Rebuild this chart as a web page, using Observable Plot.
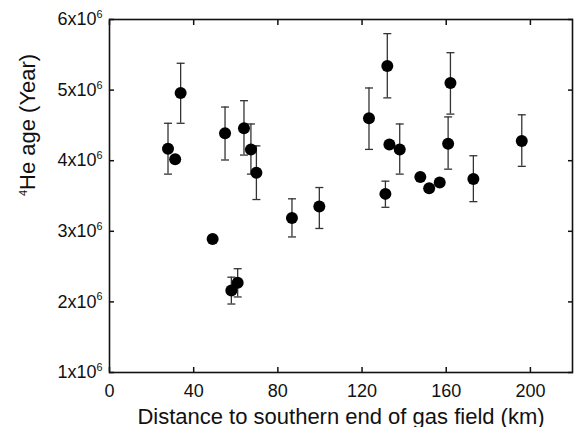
<!DOCTYPE html>
<html><head><meta charset="utf-8">
<script src="https://cdn.jsdelivr.net/npm/d3@7"></script>
<script src="https://cdn.jsdelivr.net/npm/@observablehq/plot@0.6"></script>
<style>body{margin:0;background:#fff} svg{display:block}</style>
</head><body><div id="chart"></div>
<script>
// Distance to southern end of gas field (km)
const distance = [27.8, 31.2, 33.8, 49.0, 54.9, 57.9, 60.9, 63.9, 67.2, 69.8, 86.7, 99.7,
                  123.3, 131.1, 132.0, 133.0, 137.9, 147.7, 151.9, 156.9, 160.9, 162.0, 172.9, 195.9];
// 4He age in millions of years
const ageM   = [4.17, 4.02, 4.96, 2.89, 4.39, 2.16, 2.27, 4.46, 4.16, 3.83, 3.19, 3.35,
                4.60, 3.53, 5.34, 4.23, 4.16, 3.77, 3.61, 3.69, 4.24, 5.10, 3.74, 4.28];
const ageHiM = [4.53, null, 5.38, null, 4.76, 2.35, 2.47, 4.85, 4.52, 4.21, 3.46, 3.62,
                5.03, 3.71, 5.80, null, 4.52, null, null, null, 4.62, 5.53, 4.07, 4.65];
const ageLoM = [3.81, null, 4.53, null, 4.01, 1.97, 2.07, 4.08, 3.81, 3.45, 2.92, 3.04,
                4.16, 3.34, 4.89, null, 3.81, null, null, null, 3.88, 4.66, 3.42, 3.92];

const xTicks = [0, 40, 80, 120, 160, 200];
const yTicks = [1e6, 2e6, 3e6, 4e6, 5e6, 6e6];
const xLabel = "Distance to southern end of gas field (km)";
const yLabel = "^4He age (Year)";

const rows = distance.map((d, i) => ({
  distance: d, age: ageM[i] * 1e6,
  hi: ageHiM[i] == null ? null : ageHiM[i] * 1e6,
  lo: ageLoM[i] == null ? null : ageLoM[i] * 1e6
}));
const bars = rows.filter(r => r.hi != null);

const capSymbol = {draw(ctx, size) { const w = Math.sqrt(size / Math.PI); ctx.moveTo(-w, 0); ctx.lineTo(w, 0); }};

const chart = Plot.plot({
  width: 574, height: 427,
  marginLeft: 109, marginRight: 2, marginTop: 19, marginBottom: 55,
  style: {fontFamily: "'Liberation Sans', Arial, Helvetica, sans-serif", fontSize: "18px", color: "#111", background: "#fff", overflow: "visible"},
  x: {domain: [0, 220]},
  y: {domain: [1e6, 6e6]},
  marks: [
    Plot.axisX({ticks: xTicks, tickSize: 0, tickPadding: 12, label: null, fontSize: 18}),
    Plot.axisX({ticks: xTicks, tickSize: -5, tickFormat: () => "", label: null, strokeWidth: 1.5}),
    Plot.axisX({anchor: "top", ticks: xTicks, tickSize: -5, tickFormat: () => "", label: null, strokeWidth: 1.5}),
    Plot.axisY({ticks: yTicks, tickSize: 0, tickPadding: 7, tickFormat: d => `${d / 1e6}x10^6`, label: null, fontSize: 18}),
    Plot.axisY({ticks: yTicks, tickSize: -5, tickFormat: () => "", label: null, strokeWidth: 1.5}),
    Plot.axisY({anchor: "right", ticks: yTicks, tickSize: -5, tickFormat: () => "", label: null, strokeWidth: 1.5}),
    Plot.ruleX(bars, {x: "distance", y1: "lo", y2: "hi", stroke: "#333", strokeWidth: 1.3}),
    Plot.dot(bars, {x: "distance", y: "hi", symbol: capSymbol, r: 4, stroke: "#333", strokeWidth: 1.3, fill: "none"}),
    Plot.dot(bars, {x: "distance", y: "lo", symbol: capSymbol, r: 4, stroke: "#333", strokeWidth: 1.3, fill: "none"}),
    Plot.dot(rows, {x: "distance", y: "age", r: 6, fill: "#000", stroke: "none"}),
    Plot.frame({stroke: "#111", strokeWidth: 1.6}),
    Plot.text([xLabel], {frameAnchor: "bottom", dy: 44, fontSize: 22, lineAnchor: "middle", fill: "#111"}),
    Plot.text([yLabel], {frameAnchor: "left", dx: -82, rotate: -90, fontSize: 22, lineAnchor: "middle", fill: "#111"})
  ]
});

// superscripts: "^x" marks a superscript character
d3.select(chart).selectAll("text").each(function() {
  const t = this.textContent;
  if (!t.includes("^")) return;
  const fs = parseFloat(getComputedStyle(this).fontSize) || 18;
  const supSize = fs * 0.6, raise = fs * 0.4;
  const sel = d3.select(this);
  sel.text("");
  const parts = t.split(/(\^.)/).filter(s => s.length);
  let raised = false;
  for (const p of parts) {
    if (p.startsWith("^")) {
      sel.append("tspan").attr("font-size", supSize).attr("dy", -raise).text(p.slice(1));
      raised = true;
    } else {
      const ts = sel.append("tspan").text(p);
      if (raised) { ts.attr("dy", raise); raised = false; }
    }
  }
});

document.getElementById("chart").append(chart);
</script>
</body></html>
